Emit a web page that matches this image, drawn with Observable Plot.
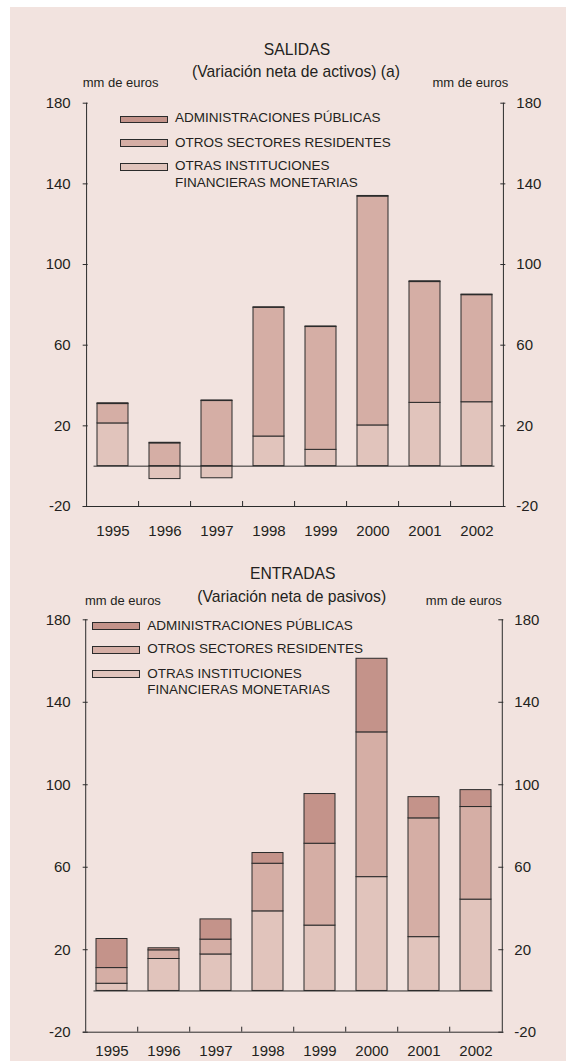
<!DOCTYPE html>
<html><head><meta charset="utf-8">
<script src="https://cdn.jsdelivr.net/npm/d3@7"></script>
<script src="https://cdn.jsdelivr.net/npm/@observablehq/plot@0.6"></script>
<style>
body{margin:0;background:#fff;font-family:"Liberation Sans",Arial,sans-serif;color:#231f20}
#page{position:relative;width:566px;height:1061px;overflow:hidden}
#bg{position:absolute;left:10px;top:7px;right:0;bottom:0;background:#f2e3df}
.panel{position:absolute;left:0;width:566px}
.t{position:absolute;white-space:nowrap;line-height:1}
.c{transform:translate(-50%,-50%)}
.l{transform:translate(0,-50%)}
.r{transform:translate(-100%,-50%)}
.title{font-size:15.7px}
.unit{font-size:13px}
.leg{font-size:13.5px}
.sw{position:absolute;box-sizing:border-box;width:48px;height:7.5px;border:1px solid #2b2b2b}
</style>
</head><body>
<div id="page"><div id="bg"></div></div>
<script>
const years = ["1995","1996","1997","1998","1999","2000","2001","2002"];
const sectors = ["ADMINISTRACIONES PÚBLICAS","OTROS SECTORES RESIDENTES","OTRAS INSTITUCIONES FINANCIERAS MONETARIAS"];
const legendLines = [["ADMINISTRACIONES PÚBLICAS"],["OTROS SECTORES RESIDENTES"],["OTRAS INSTITUCIONES","FINANCIERAS MONETARIAS"]];
const sectorColors = ["#c4938a","#d5aea5","#e1c4bc"];
const yTicks = [-20, 20, 60, 100, 140, 180];

// SALIDAS (variación neta de activos)
const salidasOIFM = [21.2, -6.4, -6.0, 14.7, 8.1, 20.2, 31.4, 31.7];
const salidasOSR  = [9.6, 11.3, 32.3, 63.8, 60.9, 113.5, 59.9, 53.1];
const salidasAP   = [0.4, 0.3, 0.3, 0.3, 0.3, 0.3, 0.4, 0.3];

// ENTRADAS (variación neta de pasivos)
const entradasOIFM = [3.5, 15.5, 17.7, 38.6, 31.7, 55.2, 26.1, 44.3];
const entradasOSR  = [7.6, 4.2, 7.2, 23.1, 39.7, 70.2, 57.6, 44.9];
const entradasAP   = [14.1, 1.0, 9.8, 5.2, 24.1, 35.7, 10.3, 8.2];

const INK = "#2b2b2b";
const page = document.getElementById("page");

function addText(txt, x, y, cls) {
  const d = document.createElement("div");
  d.className = "t " + cls;
  d.style.left = x + "px"; d.style.top = y + "px";
  d.textContent = txt;
  page.appendChild(d);
}
function addLegend(swx, swys, tx, tys) {
  let k = 0;
  legendLines.forEach((lines, i) => {
    const s = document.createElement("div");
    s.className = "sw";
    s.style.left = swx + "px"; s.style.top = swys[i] + "px";
    s.style.background = sectorColors[i];
    page.appendChild(s);
    lines.forEach(line => { addText(line, tx, tys[k++], "l leg"); });
  });
}

function panel(top, h, mt, mb, ml, mr, xPad, OIFM, OSR, AP) {
  const rows = [];
  years.forEach((yr, i) => {
    rows.push({year: yr, sector: sectors[2], value: OIFM[i]});
    rows.push({year: yr, sector: sectors[1], value: OSR[i]});
    rows.push({year: yr, sector: sectors[0], value: AP[i]});
  });
  const W = 566;
  const fw = W - ml - mr, fh = h - mt - mb, step = fw / years.length;
  const y0 = yTicks[0], y1 = yTicks[yTicks.length - 1];
  const fmt = d => String(d);
  const plot = Plot.plot({
    width: W, height: h,
    marginTop: mt, marginBottom: mb, marginLeft: ml, marginRight: mr,
    style: {background: "transparent", fontFamily: "'Liberation Sans', Arial, sans-serif", fontSize: "15px", color: "#231f20", overflow: "visible"},
    x: {domain: years, paddingInner: 0.41, paddingOuter: 0.205, label: null},
    y: {domain: [y0, y1], label: null},
    color: {domain: sectors, range: sectorColors},
    marks: [
      Plot.barY(rows, Plot.stackY({x: "year", y: "value", fill: "sector", order: [sectors[2], sectors[1], sectors[0]], stroke: INK, strokeWidth: 1})),
      Plot.ruleY([0], {stroke: INK, strokeWidth: 1, insetLeft: step * 0.205, insetRight: step * 0.205}),
      Plot.ruleY([y0], {stroke: INK, strokeWidth: 1}),
      Plot.ruleX([years[0]], {x: d => d, dx: -step / 2, y1: y0, y2: y1, stroke: INK, strokeWidth: 1}),
      Plot.ruleX([years[years.length - 1]], {x: d => d, dx: step / 2, y1: y0, y2: y1, stroke: INK, strokeWidth: 1}),
      Plot.ruleX(years.slice(1), {x: d => d, dx: -step / 2, insetTop: fh - 5, stroke: INK, strokeWidth: 1}),
      Plot.tickY(yTicks, {y: d => d, insetRight: fw - 5, stroke: INK, strokeWidth: 1}),
      Plot.tickY(yTicks, {y: d => d, insetLeft: fw - 5, stroke: INK, strokeWidth: 1}),
      Plot.axisY({anchor: "left", ticks: yTicks, tickFormat: fmt, tickSize: 0, tickPadding: 12.5, label: null}),
      Plot.axisY({anchor: "right", ticks: yTicks, tickFormat: fmt, tickSize: 0, tickPadding: 10.5, label: null}),
      Plot.axisX({tickSize: 0, tickPadding: xPad, label: null})
    ]
  });
  const wrap = document.createElement("div");
  wrap.className = "panel";
  wrap.style.top = top + "px";
  wrap.appendChild(plot);
  page.appendChild(wrap);
}

panel(0, 540, 102.7, 34, 82.7, 60.7, 19, salidasOIFM, salidasOSR, salidasAP);
panel(540, 521, 79.3, 29.3, 82.7, 62.7, 13, entradasOIFM, entradasOSR, entradasAP);

addText("SALIDAS", 297, 50, "c title");
addText("(Variación neta de activos) (a)", 296, 71.7, "c title");
addText("mm de euros", 82.7, 81.7, "l unit");
addText("mm de euros", 508.3, 81.7, "r unit");
addLegend(120, [115.5, 139.2, 163], 175, [118.3, 142.7, 165.7, 182.7]);

addText("ENTRADAS", 292.7, 574.3, "c title");
addText("(Variación neta de pasivos)", 291.7, 596.7, "c title");
addText("mm de euros", 85, 600, "l unit");
addText("mm de euros", 501.7, 600, "r unit");
addLegend(92.3, [622.3, 646, 670], 147.3, [626, 649.3, 674, 690]);
</script>
</body></html>
